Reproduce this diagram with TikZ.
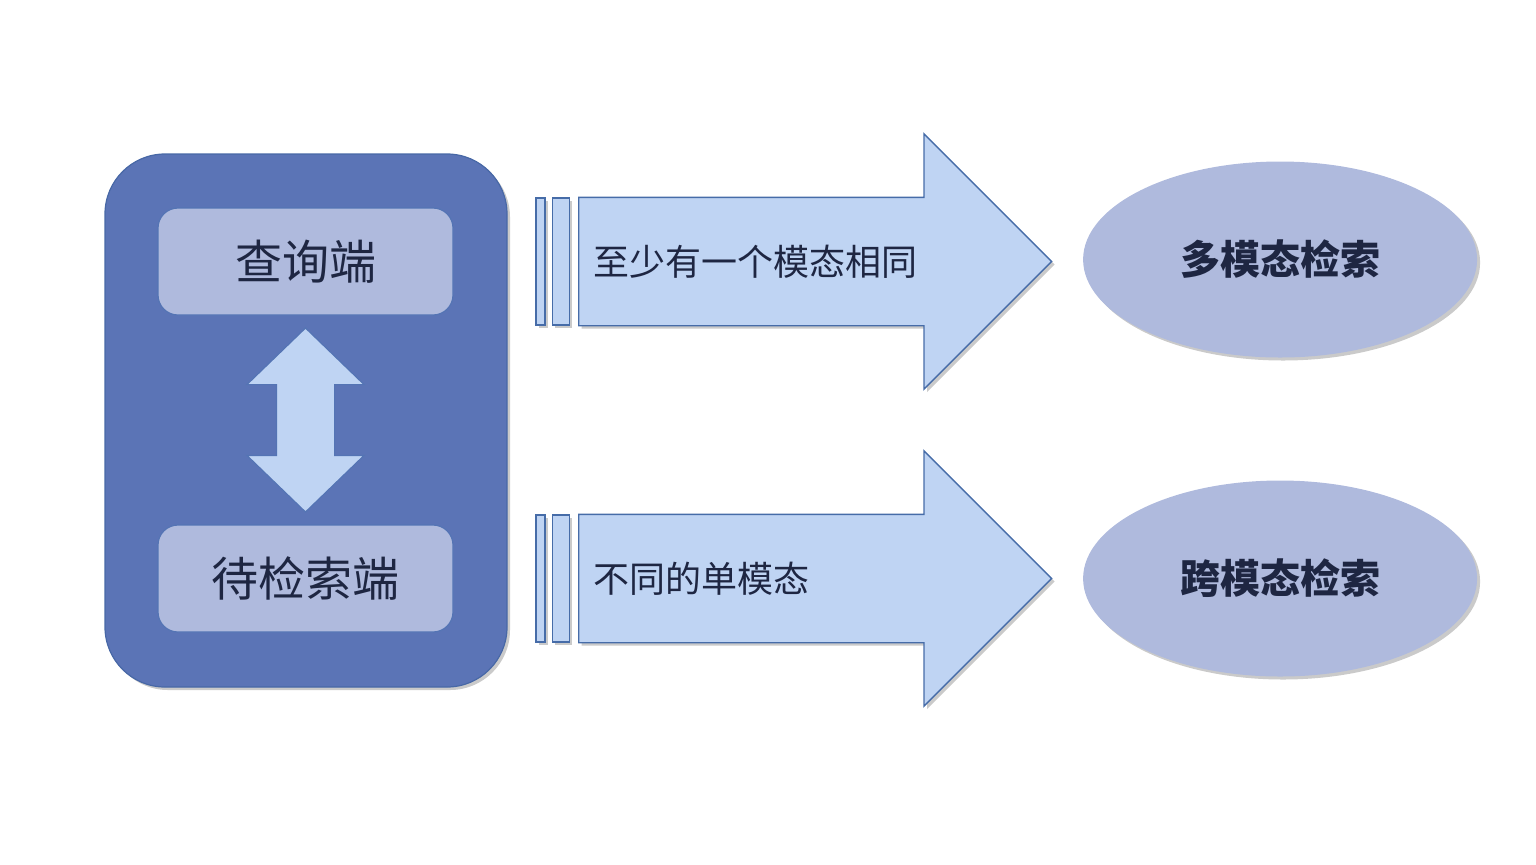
\documentclass[tikz,border=0pt]{standalone}
\usepackage{fontspec}
\newfontfamily\cjk{Noto Sans CJK SC}
\usetikzlibrary{positioning, calc, shapes.geometric, shapes.arrows, shadows}
\definecolor{panelblue}{RGB}{91,116,182}
\definecolor{paneledge}{RGB}{72,104,166}
\definecolor{softblue}{RGB}{175,186,221}
\definecolor{boxedge}{RGB}{84,116,180}
\definecolor{arrowblue}{RGB}{191,212,243}
\definecolor{arrowedge}{RGB}{70,108,168}
\definecolor{inkblue}{RGB}{30,38,66}
\tikzset{
  x=0.5pt, y=-0.5pt, % one unit is one pixel of the layout
  shade/.style={drop shadow={shadow xshift=1.5pt, shadow yshift=-1.5pt,
    opacity=0.35, fill=black!60}}, % soft shadow below right
  panel/.style={draw=paneledge, fill=panelblue, rounded corners=30pt,
    shade, line width=0.6pt},
  side/.style={draw=boxedge, fill=softblue, rounded corners=10pt,
    minimum width=147.5pt, minimum height=53.5pt, line width=0.6pt,
    font=\cjk\fontsize{23.5}{28}\selectfont, text=inkblue},
  bigarrow/.style={single arrow, draw=arrowedge, fill=arrowblue,
    line width=0.7pt, minimum height=236.5pt, inner xsep=0pt,
    inner ysep=31.75pt, % half the shaft
    single arrow head extend=31.75pt, single arrow tip angle=90, shade},
  bar/.style={draw=arrowedge, fill=arrowblue, line width=0.7pt,
    minimum height=63.5pt, inner sep=0pt, shade},
  tag/.style={font=\cjk\fontsize{18}{22}\selectfont, text=inkblue,
    anchor=west, inner sep=0pt},
  goal/.style={ellipse, fill=softblue, minimum width=197pt,
    minimum height=98pt, shade, text=inkblue,
    font=\cjk\bfseries\fontsize{20}{24}\selectfont},
}

\begin{document}
\begin{tikzpicture}
  \useasboundingbox (0,0) rectangle (1536,864);

  % left panel with the two sides
  \node[panel, minimum width=201pt, minimum height=266.5pt] (panel) at (306,420.5) {};
  \node[side] (query) at (305.5,261.5) {查询端};
  \node[side] (target) at (305.5,578.5) {待检索端};
  \node[double arrow, rotate=90, draw=boxedge, fill=arrowblue, line width=0.6pt,
    minimum height=92pt, inner xsep=0pt, inner ysep=14.25pt,
    double arrow head extend=14.75pt, double arrow tip angle=92]
    (link) at ($(query.south)!0.5!(target.north)$) {};

  % arrows to the two kinds of retrieval
  \node[bigarrow, anchor=tail] (arrowA) at (578,261.5) {};
  \node[bigarrow, anchor=tail] (arrowB) at (578,578.5) {};
  \node[bar, minimum width=8.5pt, left=4pt of arrowA.tail] (barA2) {};
  \node[bar, minimum width=4.5pt, left=3pt of barA2] (barA1) {};
  \node[bar, minimum width=8.5pt, left=4pt of arrowB.tail] (barB2) {};
  \node[bar, minimum width=4.5pt, left=3pt of barB2] (barB1) {};
  \node[tag, right=7.5pt of arrowA.tail] (same) {至少有一个模态相同};
  \node[tag, right=7.5pt of arrowB.tail] (differ) {不同的单模态};

  % the results
  \node[goal, right=15pt of arrowA.tip, yshift=1pt] (multi) {多模态检索};
  \node[goal, right=15pt of arrowB.tip] (cross) {跨模态检索};
\end{tikzpicture}
\end{document}
